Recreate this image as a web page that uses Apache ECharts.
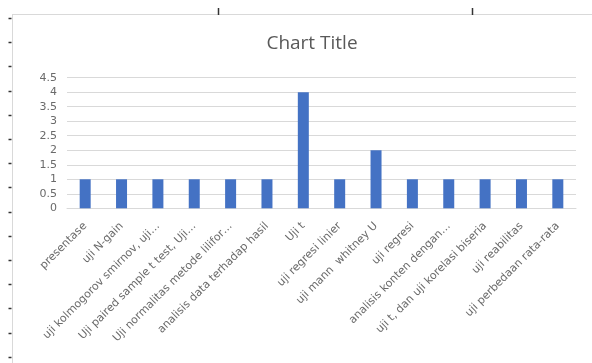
<!DOCTYPE html>
<html>
<head>
<meta charset="utf-8">
<script src="https://cdn.jsdelivr.net/npm/echarts@6/dist/echarts.min.js"></script>
<style>
html,body{margin:0;padding:0;background:#fff;}
#c{width:592px;height:363px;}
</style>
</head>
<body>
<div id="c"></div>
<script>
var categories = [
  "presentase",
  "uji N-gain",
  "uji kolmogorov smirnov, uji…",
  "Uji paired sample t test, Uji…",
  "Uji normalitas metode lilifor…",
  "analisis data terhadap hasil",
  "Uji t",
  "uji regresi linier",
  "uji mann  whitney U",
  "uji regresi",
  "analisis konten dengan…",
  "uji t, dan uji korelasi biseria",
  "uji reabilitas",
  "uji perbedaan rata-rata"
];
var values = [1, 1, 1, 1, 1, 1, 4, 1, 2, 1, 1, 1, 1, 1];
var yTicks = { min: 0, max: 4.5, interval: 0.5 };
var chartTitle = "Chart Title";

var chart = echarts.init(document.getElementById('c'), null, {renderer: 'canvas'});

var deco = [];
// spreadsheet remnants: frame and small tick marks
deco.push({type:'line', shape:{x1:12.5,y1:14.5,x2:12.5,y2:363}, style:{stroke:'#d9d9d9',lineWidth:1}, silent:true});
deco.push({type:'line', shape:{x1:12,y1:14.5,x2:592,y2:14.5}, style:{stroke:'#d9d9d9',lineWidth:1}, silent:true});
for (var k = 0; k < 15; k++) {
  var yy = Math.round(18 + 24.2 * k) + 0.5;
  deco.push({type:'line', shape:{x1:8.5,y1:yy,x2:11.5,y2:yy}, style:{stroke:'#333',lineWidth:1.5}, silent:true});
}
[218.5, 472.5].forEach(function(x){
  deco.push({type:'line', shape:{x1:x,y1:8,x2:x,y2:15}, style:{stroke:'#333',lineWidth:1.5}, silent:true});
});

chart.setOption({
  animation: false,
  backgroundColor: '#fff',
  title: {
    text: chartTitle,
    left: 307,
    top: 29,
    textAlign: 'center',
    textStyle: {fontFamily: 'Open Sans', fontSize: 19, fontWeight: 'normal', color: '#595959'}
  },
  grid: {left: 67, right: 16, top: 77.7, bottom: 154.7, containLabel: false},
  xAxis: {
    type: 'category',
    data: categories,
    axisLine: {lineStyle: {color: '#d9d9d9'}},
    axisTick: {show: false},
    axisLabel: {
      rotate: 45,
      interval: 0,
      margin: 16,
      color: '#6a6a6a',
      fontFamily: 'DejaVu Sans',
      fontSize: 11
    }
  },
  yAxis: {
    type: 'value',
    min: yTicks.min,
    max: yTicks.max,
    interval: yTicks.interval,
    axisLine: {show: false},
    axisTick: {show: false},
    splitLine: {lineStyle: {color: '#d9d9d9'}},
    axisLabel: {
      color: '#6a6a6a',
      fontFamily: 'DejaVu Sans',
      fontSize: 11,
      margin: 10,
      formatter: function(v){ return String(v); }
    }
  },
  series: [{
    type: 'bar',
    data: values,
    barWidth: 11,
    itemStyle: {color: '#4472c4'}
  }],
  graphic: deco
});
</script>
</body>
</html>
